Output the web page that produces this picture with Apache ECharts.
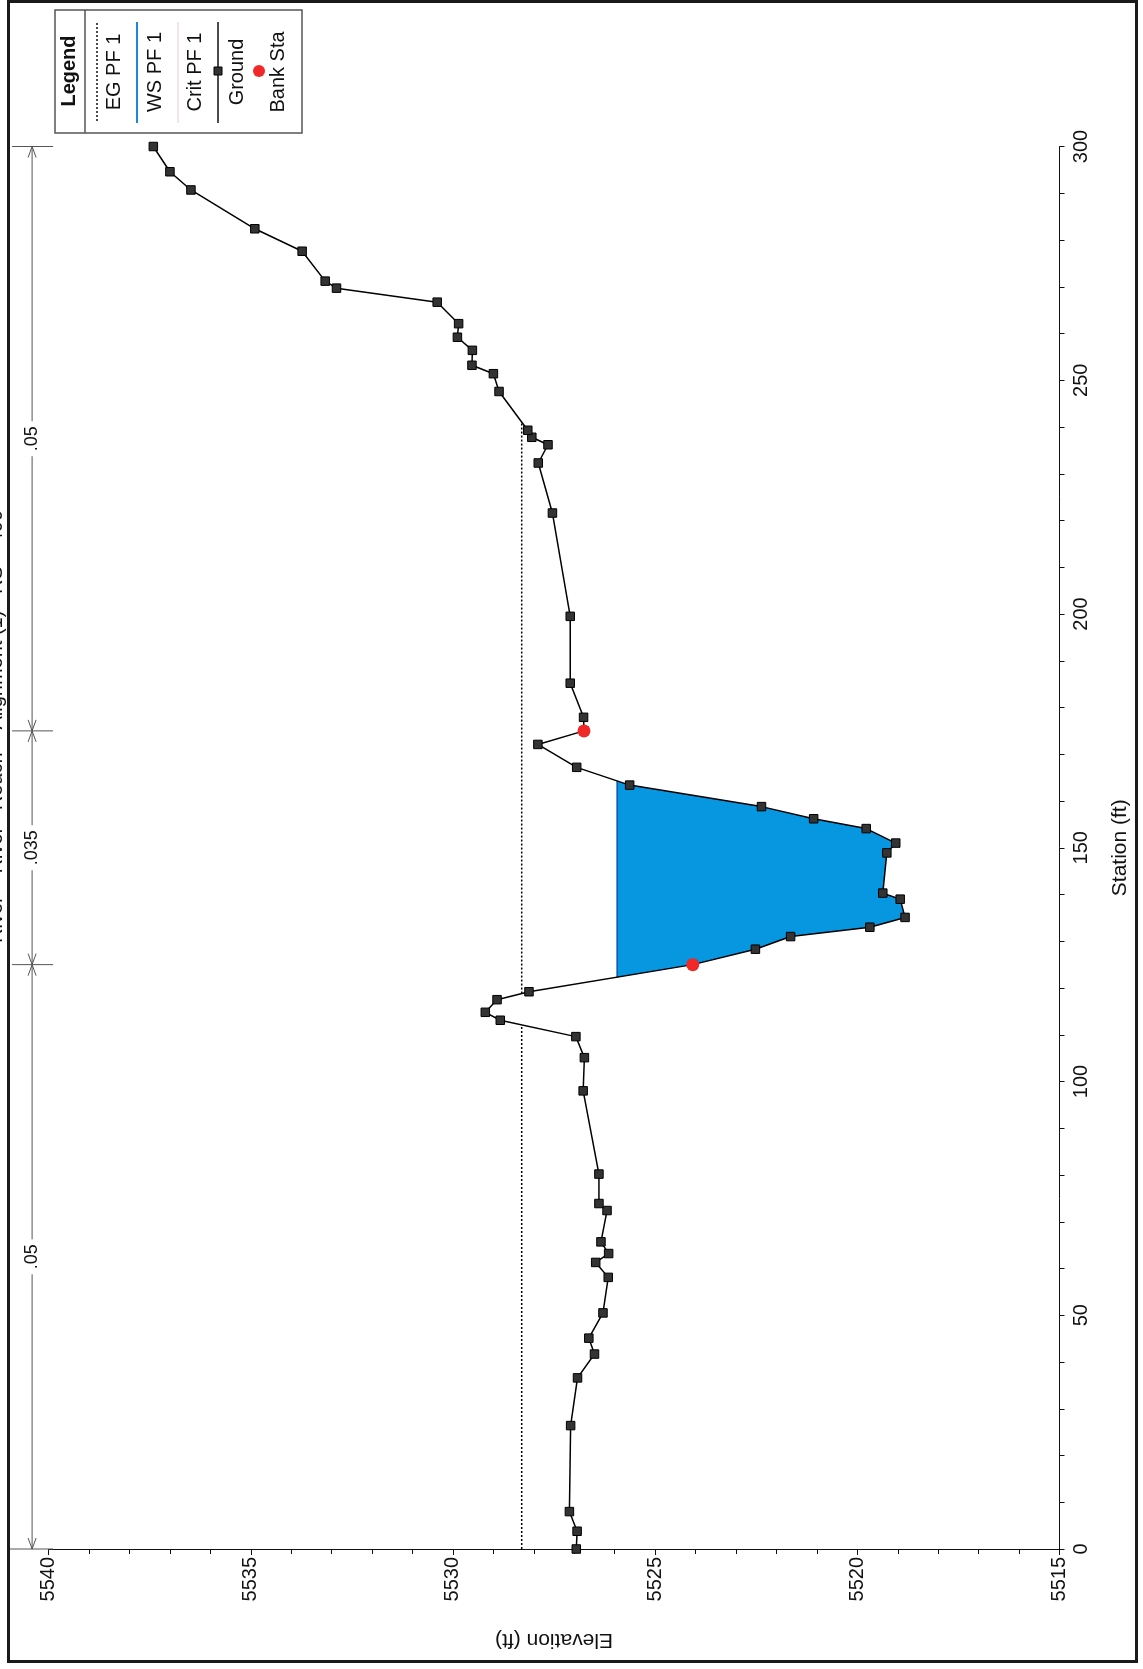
<!DOCTYPE html>
<html>
<head>
<meta charset="utf-8">
<script src="https://cdn.jsdelivr.net/npm/echarts@6/dist/echarts.min.js"></script>
<style>
  html, body {margin: 0; padding: 0; background: #fff;}
  #chart {width: 1143px; height: 1669px;}
</style>
</head>
<body>
<div id="chart"></div>
<script>
// ground profile, station (ft) / elevation (ft)
const stations = [
  0, 3.8, 8.0, 26.4, 36.6, 41.7, 45.1, 50.5, 58.1, 61.3, 63.2, 65.7, 72.4, 73.9, 80.2,
  98.0, 105.1, 109.6, 113.1, 114.8, 117.5, 119.2, 125.0, 128.3, 131.0, 133.0, 135.1,
  139.0, 140.3, 148.9, 151.0, 154.1, 156.2, 158.8, 163.4, 167.2, 172.1, 175.0, 177.9,
  185.2, 199.5, 221.6, 232.3, 236.2, 237.8, 239.3, 247.6, 251.4, 253.2, 256.4, 259.2,
  262.1, 266.7, 269.7, 271.2, 277.6, 282.4, 290.7, 294.6, 300.0
]
const elevations = [
  5526.95, 5526.93, 5527.12, 5527.09, 5526.92, 5526.50, 5526.64, 5526.29, 5526.16, 5526.47,
  5526.15, 5526.34, 5526.19, 5526.39, 5526.39, 5526.78, 5526.75, 5526.96, 5528.83, 5529.20,
  5528.91, 5528.12, 5524.07, 5522.52, 5521.65, 5519.69, 5518.82, 5518.94, 5519.37, 5519.27,
  5519.05, 5519.78, 5521.08, 5522.37, 5525.63, 5526.94, 5527.90, 5526.76, 5526.77, 5527.10,
  5527.10, 5527.54, 5527.89, 5527.65, 5528.05, 5528.15, 5528.86, 5529.00, 5529.53, 5529.52,
  5529.89, 5529.86, 5530.39, 5532.88, 5533.16, 5533.73, 5534.90, 5536.48, 5537.00, 5537.41
]
const bankStations = [125, 175]
const wsElev = 5525.94
const egElev = 5528.30
const nBreaks = [0, 125, 175, 300]
const nValues = ['.05', '.035', '.05']

const FONT = '"Liberation Sans", Arial, sans-serif'
const chart = echarts.init(document.getElementById('chart'))

function groundAt(s) {
  for (let i = 1; i < stations.length; i++) {
    if (s <= stations[i]) {
      const t = (s - stations[i - 1]) / (stations[i] - stations[i - 1])
      return elevations[i - 1] + t * (elevations[i] - elevations[i - 1])
    }
  }
  return elevations[elevations.length - 1]
}

// pieces of the section that lie below a level, with the crossing points
function wetParts(level) {
  const parts = []
  let cur = null
  for (let i = 0; i < stations.length; i++) {
    const s = stations[i], z = elevations[i]
    if (z < level) {
      if (!cur) {
        if (i === 0) cur = [[s, level]]
        else {
          const s0 = stations[i - 1], z0 = elevations[i - 1]
          cur = [[s0 + (level - z0) / (z - z0) * (s - s0), level]]
        }
      }
      cur.push([s, z])
    } else if (cur) {
      const s0 = stations[i - 1], z0 = elevations[i - 1]
      cur.push([s0 + (level - z0) / (z - z0) * (s - s0), level])
      parts.push(cur)
      cur = null
    }
  }
  if (cur) {
    cur.push([stations[stations.length - 1], level])
    parts.push(cur)
  }
  return parts
}

const wsParts = wetParts(wsElev)
const egParts = wetParts(egElev)
const groundData = stations.map((s, i) => [elevations[i], s])
const bankData = bankStations.map(s => [groundAt(s), s])

const egSeries = egParts.map(p => ({
  type: 'line',
  data: [[egElev, p[0][0]], [egElev, p[p.length - 1][0]]],
  symbol: 'none',
  silent: true,
  lineStyle: {color: '#000', width: 1.5, type: [2, 2]},
  z: 3
}))

const wsSeries = wsParts.map(p => ({
  type: 'line',
  data: [[wsElev, p[0][0]], [wsElev, p[p.length - 1][0]]],
  symbol: 'none',
  silent: true,
  lineStyle: {color: '#0a56a8', width: 1.5},
  z: 2
}))

const txt = (x, y, text, font, extra) => ({
  type: 'text', x, y, rotation: Math.PI / 2, z: 11,
  style: Object.assign({
    text, fill: '#111', font: font + ' ' + FONT, align: 'center', verticalAlign: 'middle'
  }, extra || {})
})
const vline = (x, y1, y2, style) => ({
  type: 'line', shape: {x1: x, y1, x2: x, y2}, z: 11,
  style: Object.assign({stroke: '#111', lineWidth: 1.2}, style || {})
})

const legendGraphics = [
  {type: 'rect', shape: {x: 55, y: 10, width: 247, height: 123},
    style: {fill: '#fff', stroke: '#555', lineWidth: 1.5}, z: 10},
  vline(85, 10, 133, {stroke: '#555', lineWidth: 1.5}),
  txt(69, 71, 'Legend', 'bold 20px'),
  vline(97, 23, 122, {lineDash: [2, 2], lineWidth: 1.5}),
  txt(114, 72, 'EG PF 1', '20px'),
  vline(137, 22, 123, {stroke: '#1e88d8', lineWidth: 2}),
  txt(155, 72, 'WS PF 1', '20px'),
  vline(178, 22, 123, {stroke: '#e6cccc', lineWidth: 1}),
  txt(195, 72, 'Crit PF 1', '20px'),
  vline(218, 22, 123, {lineWidth: 1.5}),
  {type: 'rect', shape: {x: 214, y: 67, width: 8, height: 8},
    style: {fill: '#333', stroke: '#000', lineWidth: 1}, z: 12},
  txt(237, 72, 'Ground', '20px'),
  {type: 'circle', shape: {cx: 259, cy: 71, r: 6}, style: {fill: '#f02828'}, z: 12},
  txt(278, 72, 'Bank Sta', '20px')
]

const option = {
  backgroundColor: '#fff',
  animation: false,
  grid: {left: 48.6, right: 83.5, top: 146.5, bottom: 120},
  xAxis: {
    type: 'value',
    min: 5515,
    max: 5540,
    interval: 5,
    inverse: true,
    position: 'bottom',
    name: 'Elevation (ft)',
    nameLocation: 'middle',
    nameRotate: 180,
    nameGap: 80,
    nameTextStyle: {color: '#111', fontSize: 21, fontFamily: FONT},
    axisLine: {lineStyle: {color: '#111', width: 1}},
    axisTick: {length: 6, lineStyle: {color: '#111'}},
    minorTick: {show: true, splitNumber: 5, length: 5, lineStyle: {color: '#111'}},
    axisLabel: {rotate: 90, margin: 8, color: '#111', fontSize: 20, fontFamily: FONT, formatter: v => String(v)},
    splitLine: {show: false}
  },
  yAxis: {
    type: 'value',
    min: 0,
    max: 300,
    interval: 50,
    position: 'right',
    name: 'Station (ft)',
    nameLocation: 'middle',
    nameRotate: 90,
    nameGap: 50,
    nameTextStyle: {color: '#111', fontSize: 21, fontFamily: FONT},
    axisLine: {show: true, lineStyle: {color: '#111', width: 1}},
    axisTick: {show: true, length: 5, lineStyle: {color: '#111'}},
    minorTick: {show: true, splitNumber: 5, length: 5, lineStyle: {color: '#111'}},
    axisLabel: {rotate: 90, margin: 12, color: '#111', fontSize: 20, fontFamily: FONT},
    splitLine: {show: false}
  },
  graphic: [
    {type: 'rect', shape: {x: 8.5, y: 1.5, width: 1128, height: 1660},
      style: {fill: null, stroke: '#1a1a1a', lineWidth: 3}, z: 20},
    txt(-4, 510, 'River = River   Reach = Alignment (1)   RS = 400', '20px', {align: 'right'})
  ].concat(legendGraphics),
  series: [
    {
      type: 'custom',
      data: wsParts.map(p => [wsElev, p[0][0]]),
      encode: {x: 0, y: 1},
      silent: true,
      renderItem: (params, api) => ({
        type: 'polygon',
        shape: {points: wsParts[params.dataIndex].map(p => api.coord([p[1], p[0]]))},
        style: {fill: '#0796e0'}
      }),
      z: 1
    },
    ...wsSeries,
    ...egSeries,
    {
      type: 'line',
      data: groundData,
      symbol: 'rect',
      symbolSize: 8.5,
      itemStyle: {color: '#333', borderColor: '#000', borderWidth: 1},
      lineStyle: {color: '#000', width: 1.5},
      z: 4
    },
    {
      type: 'custom',
      data: bankData,
      encode: {x: 0, y: 1},
      silent: true,
      renderItem: (params, api) => {
        const p = api.coord([api.value(0), api.value(1)])
        return {type: 'circle', shape: {cx: p[0], cy: p[1], r: 6.5}, style: {fill: '#f02828'}}
      },
      z: 10
    },
    {
      // manning's n along the top of the section
      type: 'custom',
      data: nValues.map((v, i) => [5540, nBreaks[i], nBreaks[i + 1]]),
      encode: {x: 0, y: [1, 2]},
      clip: false,
      silent: true,
      renderItem: (params, api) => {
        const i = params.dataIndex
        const pa = api.coord([5540, api.value(1)])
        const pb = api.coord([5540, api.value(2)])
        const x = pa[0] - 16.5
        const ya = pa[1], yb = pb[1]
        const st = {stroke: '#555', lineWidth: 1, fill: null}
        const kids = [
          {type: 'line', shape: {x1: x, y1: ya, x2: x, y2: yb}, style: st},
          {type: 'polyline', shape: {points: [[x - 4, ya - 11], [x, ya], [x + 4, ya - 11]]}, style: st},
          {type: 'polyline', shape: {points: [[x - 4, yb + 11], [x, yb], [x + 4, yb + 11]]}, style: st},
          {type: 'line', shape: {x1: x - 20, y1: yb, x2: x + 21, y2: yb}, style: st}
        ]
        if (i === 0) kids.push({type: 'line', shape: {x1: x - 24, y1: ya, x2: x + 21, y2: ya}, style: st})
        kids.push({
          type: 'text', x, y: (ya + yb) / 2, rotation: Math.PI / 2,
          style: {
            text: nValues[i], fill: '#111', font: '18px ' + FONT,
            align: 'center', verticalAlign: 'middle', backgroundColor: '#fff', padding: [2, 5]
          }
        })
        return {type: 'group', children: kids}
      },
      z: 3
    }
  ]
}

chart.setOption(option)
</script>
</body>
</html>
